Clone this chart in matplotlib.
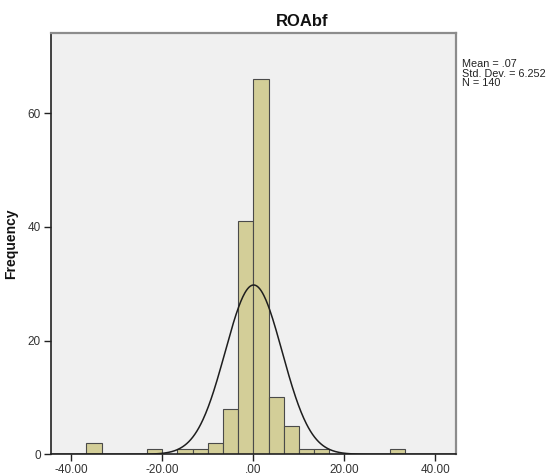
import numpy as np
import matplotlib
matplotlib.use("Agg")
import matplotlib.pyplot as plt

plt.rcParams['font.family'] = ['Liberation Sans', 'DejaVu Sans']

# Data
bin_width = 10.0 / 3.0
bin_lefts = [-36.6667, -23.3333, -16.6667, -13.3333, -10.0, -6.6667, -3.3333,
             0.0, 3.3333, 6.6667, 10.0, 13.3333, 30.0]
counts = [2, 1, 1, 1, 2, 8, 41, 66, 10, 5, 1, 1, 1]
mean_val = 0.07
std_val = 6.252
n_val = 140
x_ticks = [-40, -20, 0, 20, 40]
x_tick_labels = ["-40.00", "-20.00", ".00", "20.00", "40.00"]
y_ticks = [0, 20, 40, 60]
title = "ROAbf"
ylabel = "Frequency"

fig = plt.figure(figsize=(5.47, 4.76), dpi=100)
fig.patch.set_facecolor("white")
ax = fig.add_axes([0.0927, 0.0456, 0.7409, 0.8851])
ax.set_facecolor("#F0F0F0")

ax.bar(bin_lefts, counts, width=bin_width, align="edge",
       color="#D3CE98", edgecolor="#4A4A4A", linewidth=0.8, zorder=2)

xs = np.linspace(-44.5, 44.5, 600)
ys = n_val * bin_width / (std_val * np.sqrt(2 * np.pi)) * np.exp(-0.5 * ((xs - mean_val) / std_val) ** 2)
ax.plot(xs, ys, color="#1E1E1E", linewidth=1.1, zorder=3)

ax.set_xlim(-44.5, 44.5)
ax.set_ylim(0, 74.1)
ax.set_xticks(x_ticks)
ax.set_xticklabels(x_tick_labels)
ax.set_yticks(y_ticks)
ax.tick_params(axis="both", direction="out", length=5, width=1.0, color="#222222",
               labelsize=8.5, labelcolor="#333333", pad=2)

for s in ["left", "bottom"]:
    ax.spines[s].set_color("#222222")
    ax.spines[s].set_linewidth(1.2)
for s in ["top", "right"]:
    ax.spines[s].set_color("#8C8C8C")
    ax.spines[s].set_linewidth(1.6)

ax.set_ylabel(ylabel, fontsize=10, fontweight="bold", color="#111111", labelpad=7)
fig.text(302 / 547, 1 - 21 / 476, title, ha="center", va="center",
         fontsize=12, fontweight="bold", color="#111111")
fig.text(462 / 547, 1 - 59 / 476,
         "Mean = .07\nStd. Dev. = 6.252\nN = 140",
         ha="left", va="top", fontsize=7.8, color="#222222", linespacing=0.95)

fig.savefig("out.png", dpi=100, facecolor="white")
